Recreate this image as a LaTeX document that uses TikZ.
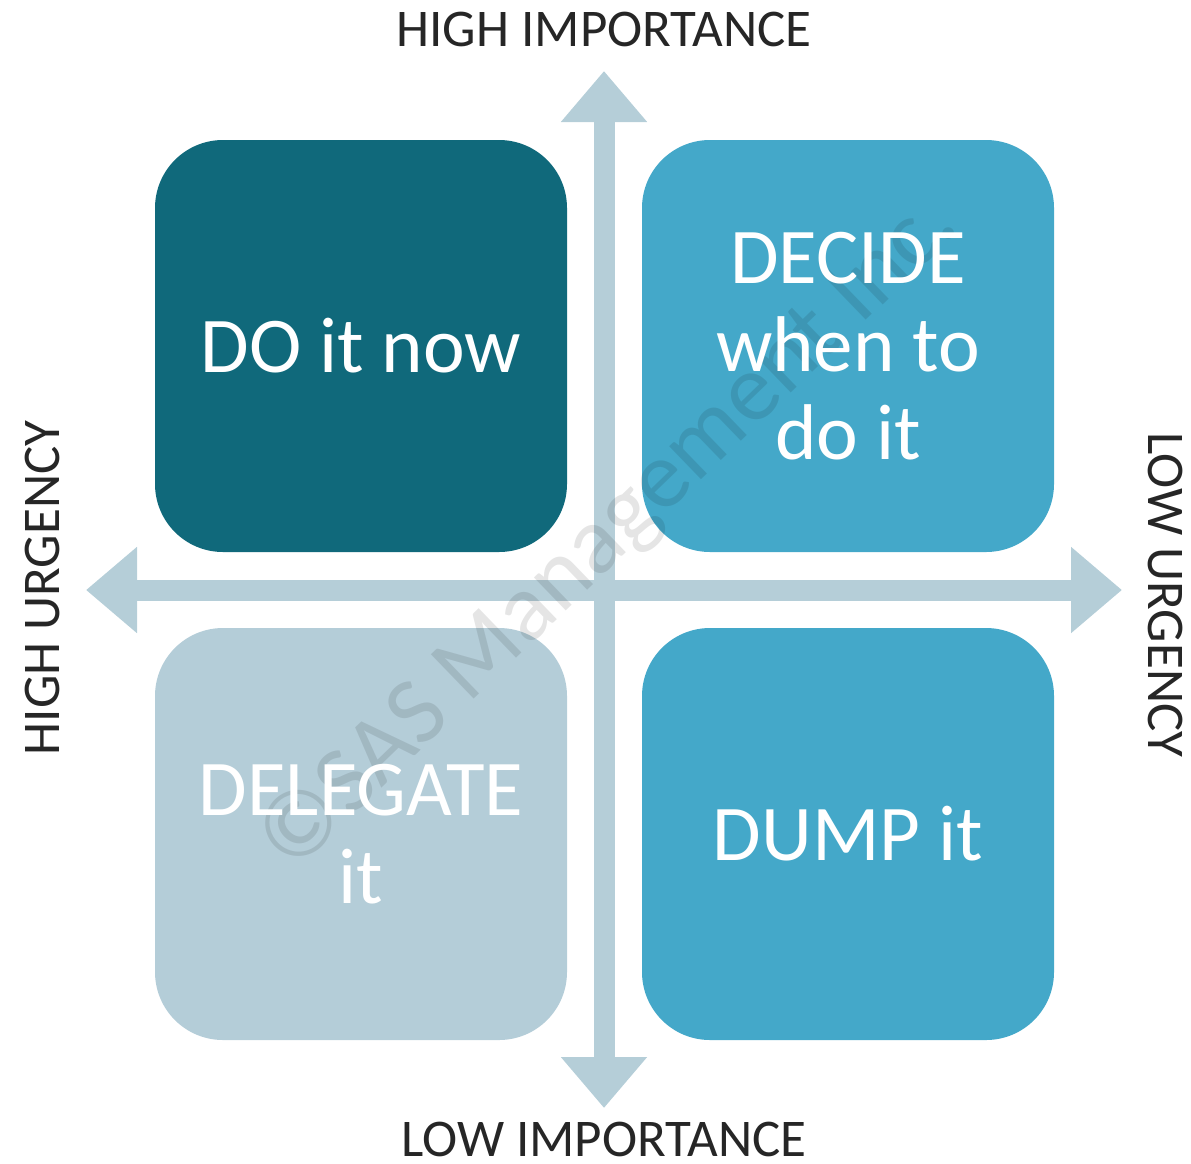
\documentclass[tikz,border=0pt]{standalone}
\usepackage{fontspec}
\setmainfont{Carlito}
\usetikzlibrary{arrows.meta}

\definecolor{urgentdark}{HTML}{10697B}
\definecolor{planblue}{HTML}{44A8C9}
\definecolor{paleblue}{HTML}{B4CDD8}
\definecolor{axisblue}{HTML}{B5CED8}
\definecolor{labelgray}{HTML}{262626}

\tikzset{
  quad/.style={rectangle, rounded corners=68pt, minimum width=412pt,
    minimum height=412pt, inner sep=0pt, draw=none},
  quadtext/.style={text=white, align=center,
    font=\fontsize{79}{88}\selectfont},
  axis/.style={axisblue, line width=21pt,
    {Triangle[length=51pt,width=83pt]}-{Triangle[length=51pt,width=83pt]}},
  axislabel/.style={text=labelgray, font=\fontsize{53}{60}\selectfont,
    inner sep=0pt},
  watermark/.style={text=black, text opacity=0.1,
    font=\fontsize{96}{100}\selectfont, rotate=44, inner sep=0pt}
}

\begin{document}
\begin{tikzpicture}[x=1pt,y=-1pt]
  \useasboundingbox (0,0) rectangle (1191,1163);

  % four quadrants
  \node[quad, fill=urgentdark] (qdo)     at (361,346) {};
  \node[quad, fill=planblue]   (qdecide) at (848,346) {};
  \node[quad, fill=paleblue]   (qdeleg)  at (361,834) {};
  \node[quad, fill=planblue]   (qdump)   at (848,834) {};

  % axes
  \coordinate (ytop) at (604,71);
  \coordinate (ybot) at (604,1108);
  \coordinate (xleft) at (86,590);
  \coordinate (xright) at (1122,590);
  \draw[axis] (ybot) -- (ytop);
  \draw[axis] (xleft) -- (xright);

  % copyright mark across the grid
  \node[watermark] (wm) at (610,534) {©SAS Management Inc.};

  % quadrant captions
  \node[quadtext] (tdo)     at (qdo.center)     {DO it now};
  \node[quadtext] (tdecide) at (qdecide.center) {DECIDE\\when to\\do it};
  \node[quadtext] (tdeleg)  at (qdeleg.center)  {DELEGATE\\it};
  \node[quadtext] (tdump)   at (qdump.center)   {DUMP it};

  % axis captions
  \node[axislabel] (himp) at (604,29)   {HIGH IMPORTANCE};
  \node[axislabel] (limp) at (604,1139) {LOW IMPORTANCE};
  \node[axislabel, rotate=90]  (hurg) at (42,588)   {HIGH URGENCY};
  \node[axislabel, rotate=-90] (lurg) at (1165,595) {LOW URGENCY};
\end{tikzpicture}
\end{document}
